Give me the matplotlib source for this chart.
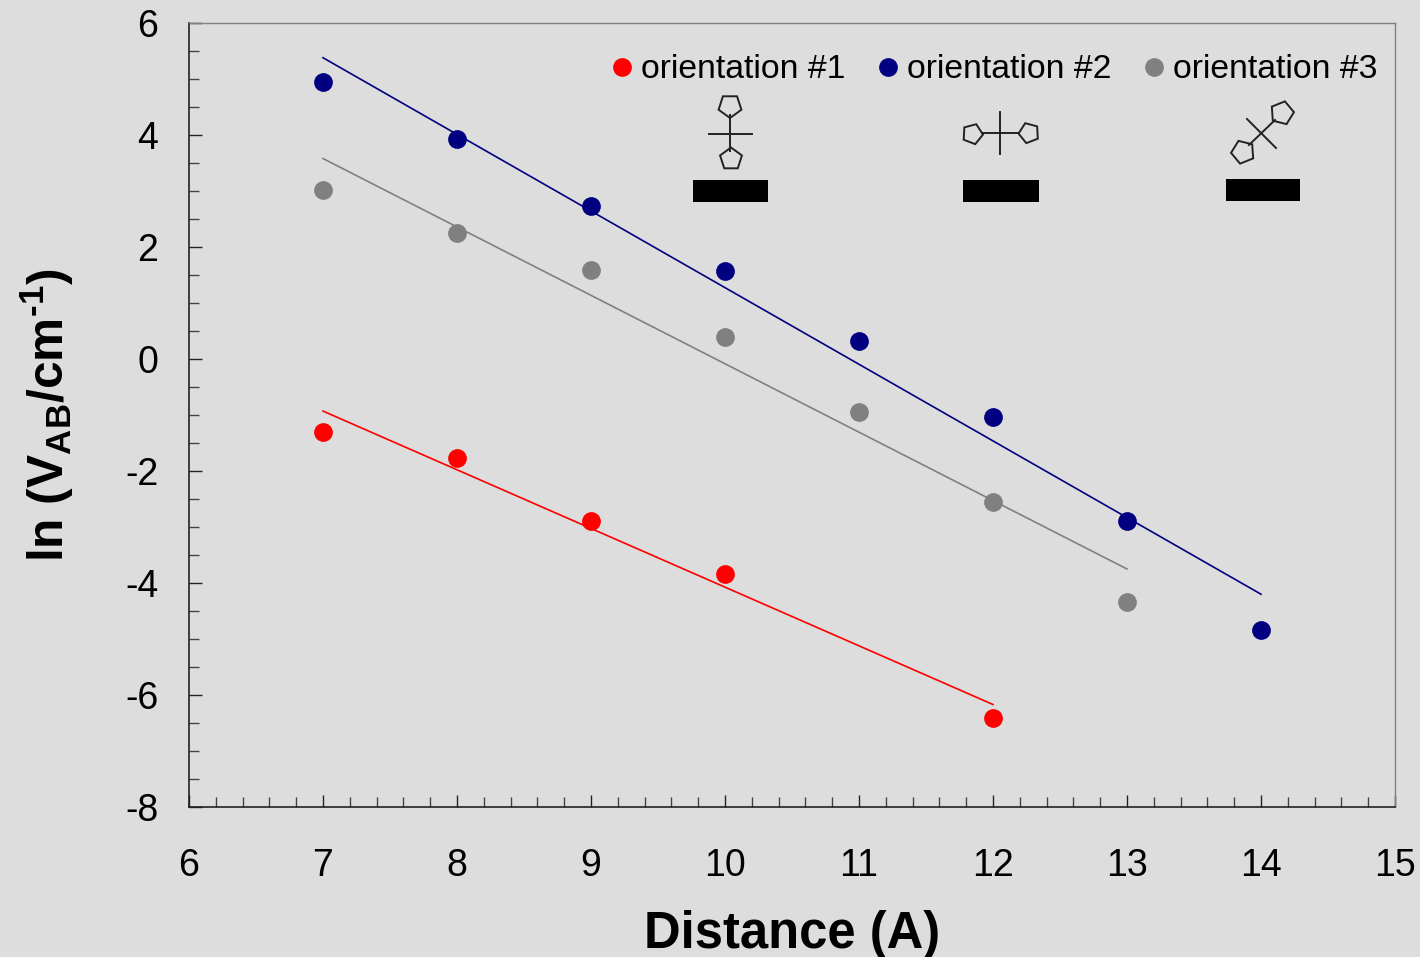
import numpy as np
import matplotlib
matplotlib.use("Agg")
import matplotlib.pyplot as plt
from matplotlib.patches import Rectangle, Polygon
from matplotlib.lines import Line2D
from matplotlib.transforms import Affine2D

plt.rcParams['font.family'] = ['Liberation Sans', 'DejaVu Sans']
plt.rcParams['axes.unicode_minus'] = False
plt.rcParams['mathtext.fontset'] = 'custom'
plt.rcParams['mathtext.rm'] = 'Liberation Sans:bold'
plt.rcParams['mathtext.bf'] = 'Liberation Sans:bold'

# points
x_red = [7, 8, 9, 10, 12]
y_red = [-1.30, -1.77, -2.89, -3.84, -6.41]
x_blue = [7, 8, 9, 10, 11, 12, 13, 14]
y_blue = [4.95, 3.93, 2.73, 1.57, 0.32, -1.04, -2.89, -4.84]
x_gray = [7, 8, 9, 10, 11, 12, 13]
y_gray = [3.02, 2.25, 1.59, 0.39, -0.95, -2.55, -4.34]

# fit lines (ends)
fit_red_x = [7, 12]
fit_red_y = [-0.93, -6.17]
fit_blue_x = [7, 14]
fit_blue_y = [5.38, -4.20]
fit_gray_x = [7, 13]
fit_gray_y = [3.58, -3.75]

labels = ["orientation #1", "orientation #2", "orientation #3"]
xticks = [6, 7, 8, 9, 10, 11, 12, 13, 14, 15]
yticks = [-8, -6, -4, -2, 0, 2, 4, 6]

bg = "#dddddd"
red = "#ff0000"
blue = "#000080"
gray = "#808080"

W, H = 1420, 957
fig = plt.figure(figsize=(W / 100, H / 100), dpi=100, facecolor=bg)
ax = fig.add_axes([189 / W, 1 - 807 / H, (1395 - 189) / W, (807 - 23) / H], facecolor=bg)

ax.plot(fit_red_x, fit_red_y, color=red, lw=1.2)
ax.plot(fit_blue_x, fit_blue_y, color=blue, lw=1.2)
ax.plot(fit_gray_x, fit_gray_y, color=gray, lw=1.2)

ax.plot(x_red, y_red, 'o', color=red, ms=13.5, mew=0, label=labels[0], clip_on=False)
ax.plot(x_blue, y_blue, 'o', color=blue, ms=13.5, mew=0, label=labels[1], clip_on=False)
ax.plot(x_gray, y_gray, 'o', color=gray, ms=13.5, mew=0, label=labels[2], clip_on=False)

ax.set_xlim(6, 15)
ax.set_ylim(-8, 6)
ax.set_xticks(xticks)
ax.set_yticks(yticks)
ax.set_xticks(np.arange(6, 15.01, 0.2), minor=True)
ax.set_yticks(np.arange(-8, 6.01, 0.5), minor=True)
ax.tick_params(which='major', direction='in', length=9, width=1, labelsize=27, color='#222222')
ax.tick_params(which='minor', direction='in', length=7, width=1, color='#444444')
ax.tick_params(axis='x', which='major', pad=29.5)
ax.tick_params(axis='y', which='major', pad=22)

for s in ['left', 'bottom']:
    ax.spines[s].set_color('#222222')
    ax.spines[s].set_linewidth(1.2)
for s in ['top', 'right']:
    ax.spines[s].set_color('#808080')
    ax.spines[s].set_linewidth(1)

ax.set_xlabel("Distance (A)", fontsize=36.5, fontweight='bold')
ax.set_ylabel(r"ln (V$_{\mathbf{AB}}$/cm$^{\mathbf{\text{-}1}}$)", fontsize=35.7, fontweight='bold')
ax.xaxis.set_label_coords(0.5, -0.132)
ax.yaxis.set_label_coords(-0.0937, 0.5)

ax.legend(loc='upper right', bbox_to_anchor=(0.9858, 0.960), ncols=3, frameon=False, fontsize=24.3,
          handletextpad=0.06, columnspacing=0.77, handlelength=1.0, borderpad=0, borderaxespad=0)

# the little molecule sketches above the black bars, in image pixels
to_fig = Affine2D().scale(1 / W, -1 / H).translate(0, 1) + fig.transFigure


def pentagon(cx, cy, r, angle):
    a = np.radians(angle + 72 * np.arange(5))
    pts = np.column_stack([cx + r * np.cos(a), cy + r * np.sin(a)])
    fig.add_artist(Polygon(pts, closed=True, fill=False, ec='#222222', lw=1.4, transform=to_fig))


def seg(x0, y0, x1, y1):
    fig.add_artist(Line2D([x0, x1], [y0, y1], color='#222222', lw=1.4, transform=to_fig))


fig.add_artist(Rectangle((693, 180), 75, 22, fc='black', ec='none', transform=to_fig))
seg(709, 134, 752, 134)
seg(730, 115, 730, 151)
pentagon(730, 106, 12, 90)
pentagon(731, 159, 11.5, -90)

fig.add_artist(Rectangle((963, 180), 76, 22, fc='black', ec='none', transform=to_fig))
seg(982, 133, 1019, 133)
seg(1000, 112, 1000, 154)
pentagon(972.5, 134, 10.5, 3)
pentagon(1029, 133, 10.5, 180 - 3)

fig.add_artist(Rectangle((1226, 179), 74, 22, fc='black', ec='none', transform=to_fig))
seg(1249, 145, 1275, 120)
seg(1247, 119, 1276, 148)
pentagon(1282, 113, 12, 135 + 5)
pentagon(1243, 152, 12, -45 + 5)

fig.savefig("out.png", dpi=100, facecolor=bg)
